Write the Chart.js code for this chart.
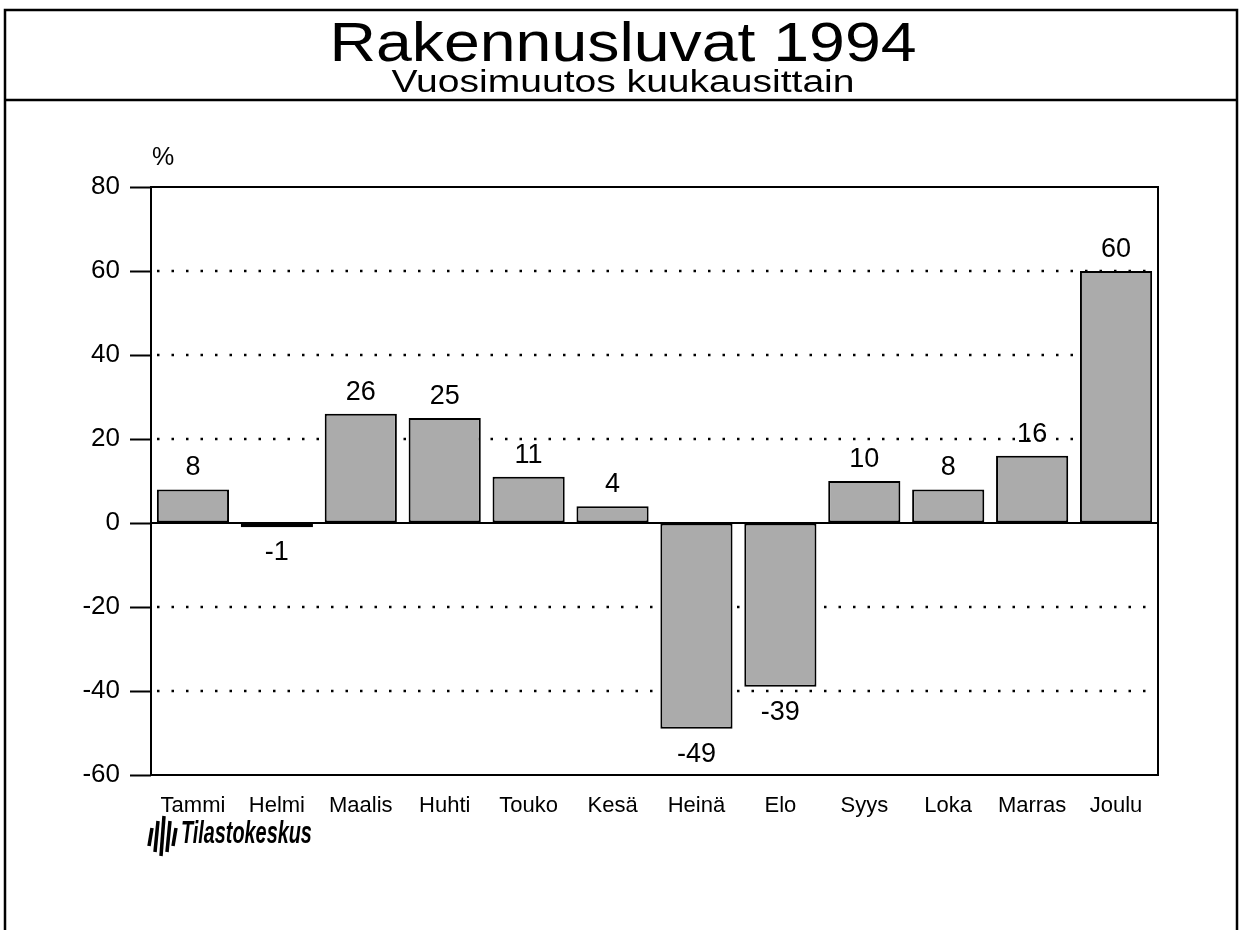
<!DOCTYPE html>
<html>
<head>
<meta charset="utf-8">
<script src="https://cdn.jsdelivr.net/npm/chart.js@4.4.1/dist/chart.umd.min.js"></script>
<style>
  html, body { margin: 0; padding: 0; background: #fff; }
  #wrap { width: 1239px; height: 930px; }
</style>
</head>
<body>
<div id="wrap"><canvas id="chart"></canvas></div>
<script>
// Kuukaudet ja vuosimuutos (%)
var months = ['Tammi', 'Helmi', 'Maalis', 'Huhti', 'Touko', 'Kesä', 'Heinä', 'Elo', 'Syys', 'Loka', 'Marras', 'Joulu'];
var changes = [8, -1, 26, 25, 11, 4, -49, -39, 10, 8, 16, 60];
var yTicks = [-60, -40, -20, 0, 20, 40, 60, 80];

var titleText = 'Rakennusluvat 1994';
var subtitleText = 'Vuosimuutos kuukausittain';
var unitText = '%';
var sourceText = 'Tilastokeskus';

var font = '"Liberation Sans", Arial, sans-serif';

// teksti venytettynä annettuun leveyteen
function stretchText(ctx, text, cx, by, size, width) {
  ctx.save();
  ctx.font = size + 'px ' + font;
  var w = ctx.measureText(text).width;
  ctx.translate(cx, by);
  ctx.scale(width / w, 1);
  ctx.textAlign = 'center';
  ctx.textBaseline = 'alphabetic';
  ctx.fillText(text, 0, 0);
  ctx.restore();
}

// Ruudukko, kehys ja tekstit
var decor = {
  id: 'decor',
  beforeDatasetsDraw: function (chart) {
    var ctx = chart.ctx, a = chart.chartArea, y = chart.scales.y;
    ctx.save();
    ctx.strokeStyle = '#000';
    ctx.lineWidth = 2.5;
    ctx.setLineDash([2.5, 12]);
    yTicks.forEach(function (v) {
      if (v === 0 || v === yTicks[0] || v === yTicks[yTicks.length - 1]) return;
      var py = Math.round(y.getPixelForValue(v));
      ctx.beginPath();
      ctx.moveTo(a.left + 6, py);
      ctx.lineTo(a.right, py);
      ctx.stroke();
    });
    ctx.restore();
  },
  afterDatasetsDraw: function (chart) {
    var ctx = chart.ctx, a = chart.chartArea, y = chart.scales.y;
    ctx.save();
    // nollaviiva
    var zy = Math.round(y.getPixelForValue(0));
    ctx.strokeStyle = '#000';
    ctx.lineWidth = 2;
    ctx.beginPath();
    ctx.moveTo(a.left, zy);
    ctx.lineTo(a.right, zy);
    ctx.stroke();
    // kuvaajan kehys
    ctx.strokeRect(a.left, a.top, a.right - a.left, a.bottom - a.top);

    // arvot pylväiden päihin
    var meta = chart.getDatasetMeta(0);
    ctx.fillStyle = '#000';
    ctx.font = '27px ' + font;
    ctx.textAlign = 'center';
    meta.data.forEach(function (bar, i) {
      var v = changes[i];
      if (v >= 0) {
        ctx.textBaseline = 'bottom';
        ctx.fillText(String(v), bar.x, bar.y - 8);
      } else {
        ctx.textBaseline = 'top';
        ctx.fillText(String(v), bar.x, bar.y + 12);
      }
    });
    ctx.restore();
  },
  afterDraw: function (chart) {
    var ctx = chart.ctx;
    ctx.save();
    ctx.strokeStyle = '#000';
    ctx.lineWidth = 2.5;
    ctx.strokeRect(5, 10, 1232, 930);
    ctx.beginPath();
    ctx.moveTo(5, 100);
    ctx.lineTo(1237, 100);
    ctx.stroke();

    ctx.fillStyle = '#000';
    stretchText(ctx, titleText, 623, 61, 55, 587);
    stretchText(ctx, subtitleText, 623, 92, 31, 463);

    ctx.font = '25px ' + font;
    ctx.textAlign = 'left';
    ctx.fillText(unitText, 152, 165);

    // logo
    var bars = [[150, 828, 846], [156, 821, 852], [162, 816, 856], [168, 821, 852], [174, 828, 846]];
    ctx.lineWidth = 3.5;
    bars.forEach(function (b) {
      ctx.beginPath();
      ctx.moveTo(b[0] + 2, b[1]);
      ctx.lineTo(b[0] - 1, b[2]);
      ctx.stroke();
    });
    ctx.translate(181, 834);
    ctx.scale(0.62, 1);
    ctx.font = 'italic bold 32px ' + font;
    ctx.textBaseline = 'middle';
    ctx.fillText(sourceText, 0, 0);
    ctx.restore();
  }
};

new Chart(document.getElementById('chart'), {
  type: 'bar',
  data: {
    labels: months,
    datasets: [{
      data: changes,
      backgroundColor: '#ababab',
      borderColor: '#000',
      borderWidth: 2,
      borderSkipped: false,
      categoryPercentage: 0.86,
      barPercentage: 1
    }]
  },
  options: {
    responsive: true,
    maintainAspectRatio: false,
    animation: false,
    layout: { padding: { left: 40, top: 187, right: 81, bottom: 95 } },
    plugins: { legend: { display: false }, tooltip: { enabled: false } },
    scales: {
      x: {
        grid: { display: false },
        border: { display: false },
        ticks: { color: '#000', font: { family: font, size: 22 }, padding: 10, maxRotation: 0 },
        afterFit: function (s) { s.height = 60; }
      },
      y: {
        min: -60,
        max: 80,
        afterBuildTicks: function (s) { s.ticks = yTicks.map(function (v) { return { value: v }; }); },
        grid: { drawOnChartArea: false, drawTicks: true, tickLength: 21, tickColor: '#000', tickWidth: 2 },
        border: { display: false },
        ticks: { color: '#000', font: { family: font, size: 26 }, padding: 10 },
        afterFit: function (s) { s.width = 111; }
      }
    }
  },
  plugins: [decor]
});
</script>
</body>
</html>
